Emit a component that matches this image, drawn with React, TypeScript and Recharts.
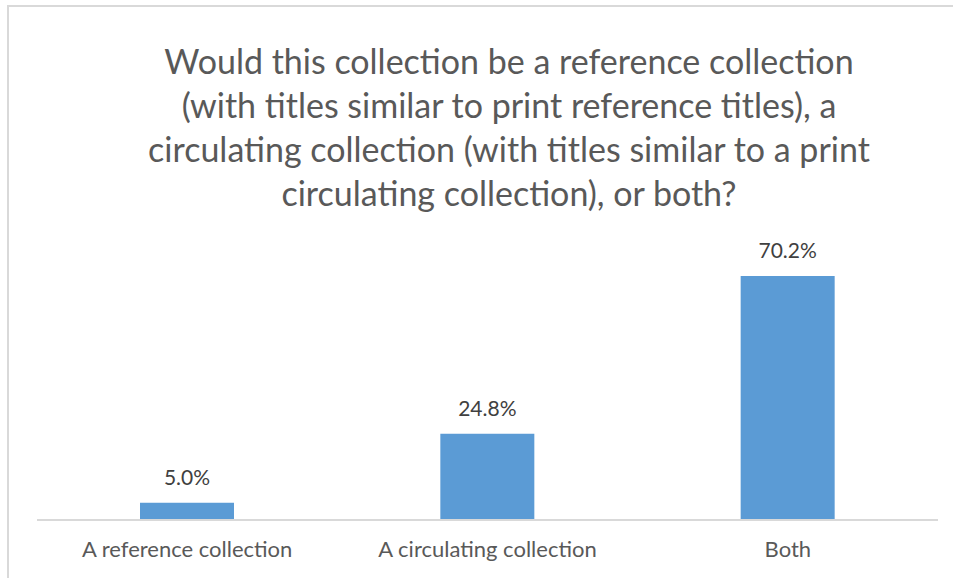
import { Bar, BarChart, LabelList, XAxis, YAxis } from 'recharts'

const categories = ['A reference collection', 'A circulating collection', 'Both']
const shares = [5.0, 24.8, 70.2]
const titleLines = [
  'Would this collection be a reference collection',
  '(with titles similar to print reference titles), a',
  'circulating collection (with titles similar to a print',
  'circulating collection), or both?',
]

const data = categories.map((name, i) => ({ name, share: shares[i] }))

const font = 'Lato, "Open Sans", sans-serif'

export default function App() {
  return (
    <div style={{ position: 'absolute', left: 0, top: 0, width: 953, height: 578, overflow: 'hidden', fontFamily: font }}>
      <div
        style={{
          position: 'absolute',
          left: 7,
          top: 5,
          width: 946,
          height: 573,
          borderLeft: '2px solid #d9d9d9',
          borderTop: '2px solid #d9d9d9',
          boxSizing: 'border-box',
        }}
      />
      <div style={{ position: 'absolute', left: 0, top: 0 }}>
        <BarChart width={953} height={578} data={data} margin={{ top: 242, right: 15, left: 37, bottom: 0 }} barSize={94}>
          <XAxis
            dataKey="name"
            height={58}
            tickLine={false}
            axisLine={{ stroke: '#d9d9d9', strokeWidth: 2 }}
            tick={{ fill: '#595959', fontSize: 22, fontFamily: font }}
            tickMargin={15}
            interval={0}
          />
          <YAxis hide domain={[0, 80]} />
          <Bar dataKey="share" fill="#5b9bd5" isAnimationActive={false}>
            <LabelList
              dataKey="share"
              position="top"
              offset={18}
              formatter={(v: number) => `${v.toFixed(1)}%`}
              style={{ fill: '#404040', fontSize: 21, fontFamily: font }}
            />
          </Bar>
        </BarChart>
      </div>
      <div
        style={{
          position: 'absolute',
          left: 0,
          top: 39,
          width: 1018,
          textAlign: 'center',
          color: '#595959',
          fontSize: 34,
          lineHeight: '44px',
        }}
      >
        {titleLines.map((line) => (
          <div key={line}>{line}</div>
        ))}
      </div>
    </div>
  )
}
